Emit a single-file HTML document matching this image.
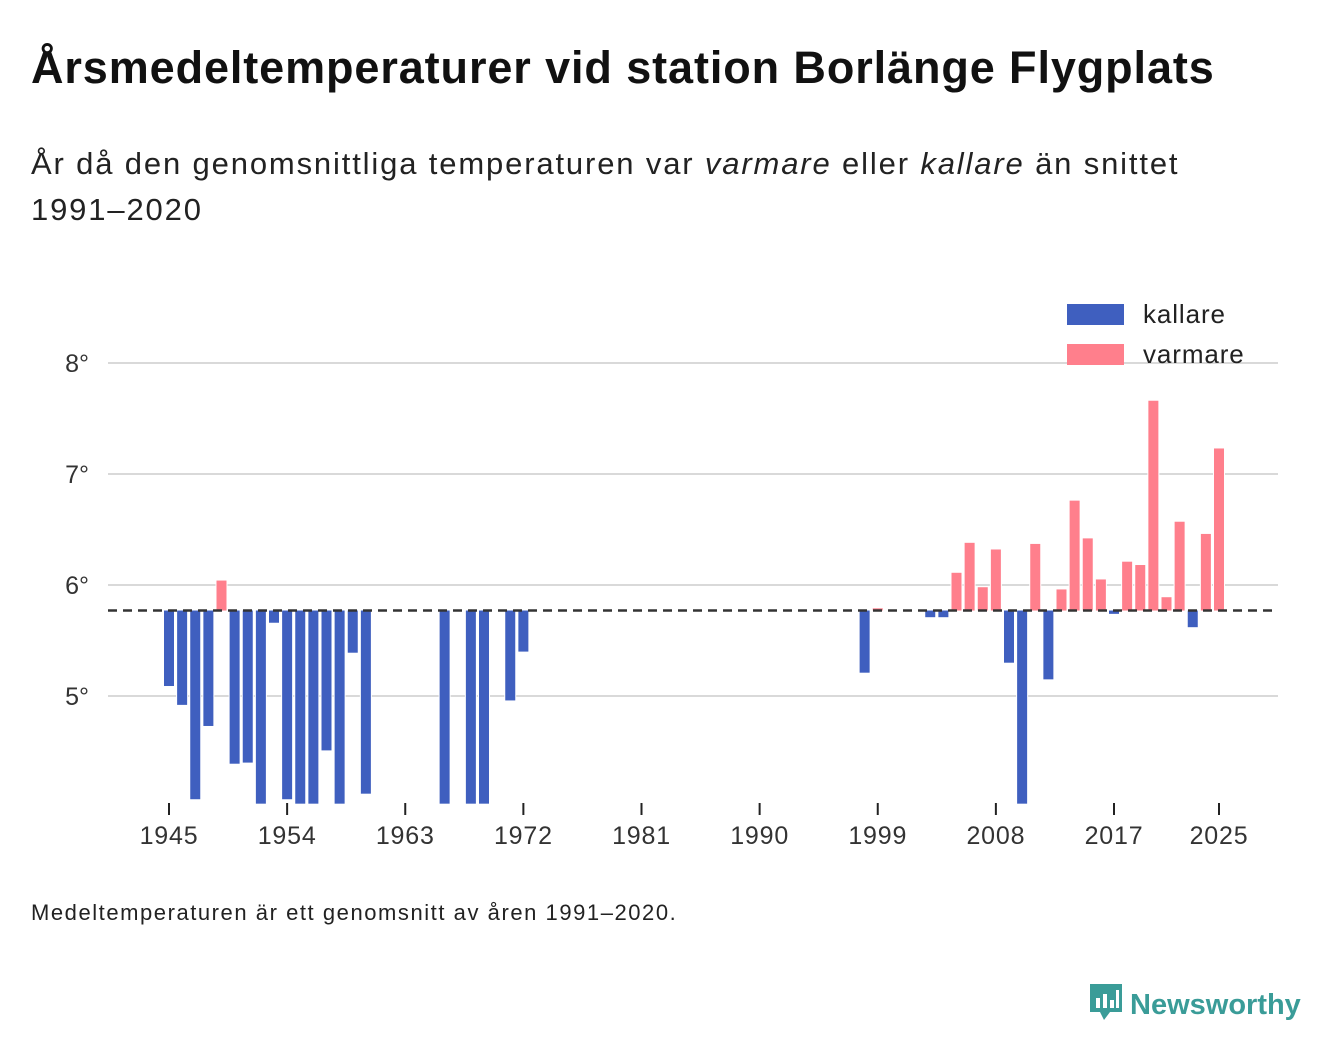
<!DOCTYPE html>
<html><head><meta charset="utf-8">
<style>
body{margin:0;background:#fff;font-family:"Liberation Sans",Arial,sans-serif;color:#111;}
#wrap{position:relative;width:1340px;height:1056px;overflow:hidden;}
h1{position:absolute;left:31px;top:42px;margin:0;font-size:45px;font-weight:bold;letter-spacing:0.9px;white-space:nowrap;}
.sub{position:absolute;left:31px;top:141px;margin:0;font-size:31px;line-height:46px;width:1300px;color:#222;letter-spacing:1.85px;white-space:nowrap;}
.foot{position:absolute;left:31px;top:900px;font-size:22px;color:#222;letter-spacing:1.55px;}
.logo{position:absolute;left:1088px;top:982px;font-size:29px;font-weight:bold;color:#3a9c98;}
</style></head><body>
<div id="wrap">
<h1>Årsmedeltemperaturer vid station Borlänge Flygplats</h1>
<p class="sub">År då den genomsnittliga temperaturen var <i>varmare</i> eller <i>kallare</i> än snittet<br>1991–2020</p>
<svg id="chart" width="1340" height="1056" style="position:absolute;left:0;top:0"></svg>
<div class="foot">Medeltemperaturen är ett genomsnitt av åren 1991–2020.</div>
<div class="logo"><svg width="36" height="42" viewBox="0 0 36 42" style="vertical-align:-10px;margin-right:6px"><path d="M2 2h32v28H22l-6 8-4-8H2z" fill="#3a9c98"/><rect x="8" y="16" width="4" height="10" fill="#fff"/><rect x="15" y="12" width="4" height="14" fill="#fff"/><rect x="22" y="18" width="4" height="8" fill="#fff"/><rect x="28" y="8" width="3" height="18" fill="#fff"/></svg>Newsworthy</div>
</div>
<script>
const years=[1945,1946,1947,1948,1949,1950,1951,1952,1953,1954,1955,1956,1957,1958,1959,1960,1966,1968,1969,1971,1972,1998,1999,2003,2004,2005,2006,2007,2008,2009,2010,2011,2012,2013,2014,2015,2016,2017,2018,2019,2020,2021,2022,2023,2024,2025];
const temps=[5.09,4.92,4.07,4.73,6.04,4.39,4.40,3.9,5.66,4.07,3.9,3.9,4.51,3.9,5.39,4.12,3.9,3.9,3.9,4.96,5.40,5.21,5.79,5.71,5.71,6.11,6.38,5.98,6.32,5.30,3.9,6.37,5.15,5.96,6.76,6.42,6.05,5.74,6.21,6.18,7.66,5.89,6.57,5.62,6.46,7.23];
const baseline=5.77;
const yTicks=[5,6,7,8];
const xTicks=[1945,1954,1963,1972,1981,1990,1999,2008,2017,2025];
const legendLabels=["kallare","varmare"];
const NS="http://www.w3.org/2000/svg";
const svg=document.getElementById('chart');
const yMin=4.03;
function y(v){return 696-(v-5)*111;}
function x(yr){return 169+(yr-1945)*13.125;}
function mk(t,a,p){const e=document.createElementNS(NS,t);for(const k in a)e.setAttribute(k,a[k]);(p||svg).appendChild(e);return e;}
yTicks.forEach(v=>{
  const l=mk('line',{x1:108,x2:1278,y1:y(v),y2:y(v),stroke:'#d9d9d9','stroke-width':2});
  
  
  const t=mk('text',{x:89,y:y(v)+9,'text-anchor':'end','font-size':25,fill:'#333','font-family':'Liberation Sans, sans-serif'});
  t.textContent=v+'°';
  
  
});
xTicks.forEach(v=>{
  const l=mk('line',{x1:x(v),x2:x(v),y1:803,y2:815,stroke:'#222','stroke-width':2});
  
  
  const t=mk('text',{x:x(v),y:844,'text-anchor':'middle','font-size':25,'letter-spacing':0.8,fill:'#333','font-family':'Liberation Sans, sans-serif'});
  t.textContent=v;
  
  
});
years.forEach((yr,i)=>{
  const v=Math.max(temps[i],yMin);
  const warm=v>=baseline;
  const y0=y(baseline),y1=y(v);
  const r=mk('rect',{x:x(yr)-5,width:10,y:Math.min(y0,y1),height:Math.max(1,Math.abs(y1-y0)),fill:warm?'#ff7f8c':'#3f5fbf',stroke:'#fff','stroke-width':2,'paint-order':'stroke'});
  
  
});
const bl=mk('line',{x1:108,x2:1278,y1:y(baseline),y2:y(baseline),stroke:'#333','stroke-width':2.5,'stroke-dasharray':'9,6'});


const lc=['#3f5fbf','#ff7f8c'];
legendLabels.forEach((lab,i)=>{
  const r=mk('rect',{x:1067,y:304+i*40,width:57,height:21,fill:lc[i]});
  
  
  const t=mk('text',{x:1143,y:323+i*40,'font-size':26,'letter-spacing':0.9,fill:'#222','font-family':'Liberation Sans, sans-serif'});
  t.textContent=lab;
  
  
});
</script>
</body></html>
